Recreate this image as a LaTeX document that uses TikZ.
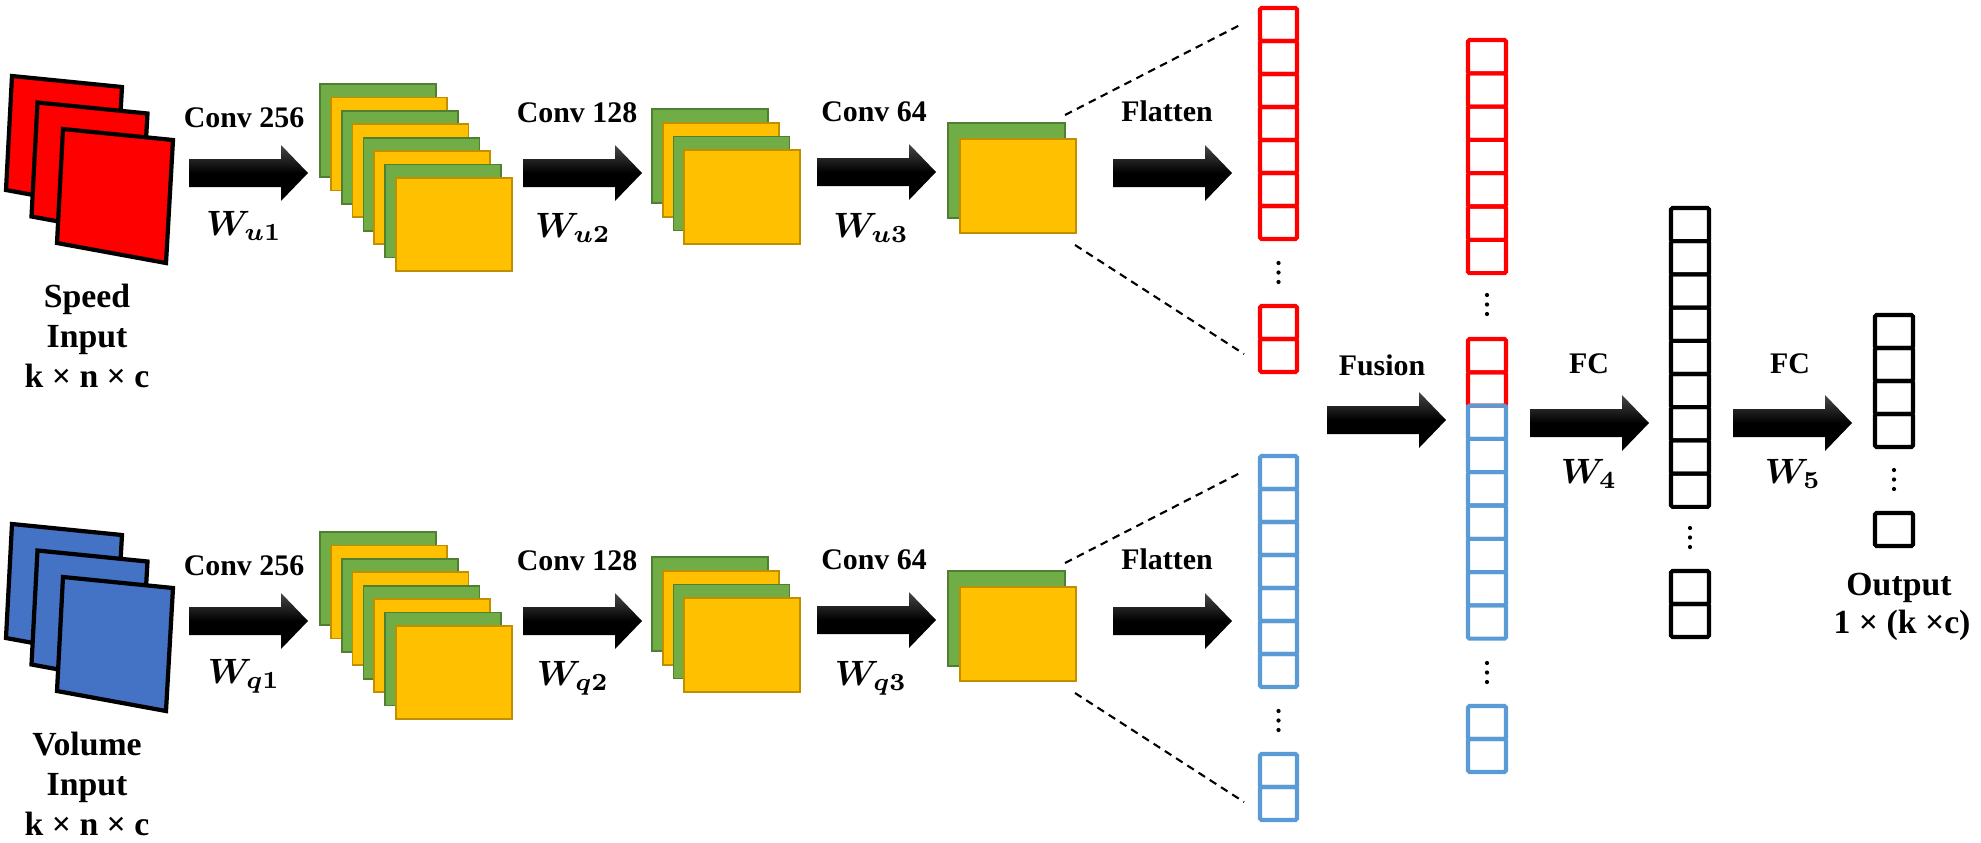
\documentclass[tikz,border=0pt]{standalone}
\usepackage{fontspec}
\setmainfont{Liberation Serif}
\usepackage{bm}
\definecolor{cred}{HTML}{FF0000}
\definecolor{cblue}{HTML}{4472C4}
\definecolor{colblue}{HTML}{5B9BD5}
\definecolor{cgreen}{HTML}{70AD47}
\definecolor{cgreenD}{HTML}{507E32}
\definecolor{cyel}{HTML}{FFC000}
\definecolor{cyelD}{HTML}{BF8F00}
\newcommand\myLabFont{\fontsize{8.5}{10}\selectfont\bfseries}
\newcommand\myWFont{\fontsize{9.6}{11}\selectfont\bfseries}
\newcommand\myIOFont{\fontsize{9.6}{11}\selectfont\bfseries}
\tikzset{
  barrow/.pic={\shade[top color=black!72, bottom color=black, middle color=black]
    (0,-14) -- (92,-14) -- (92,-28) -- (119,0) -- (92,28) -- (92,14) -- (0,14) -- cycle;},
  insq/.style={draw=black, line width=1.2pt, line join=miter},
  grn/.style={draw=cgreenD, fill=cgreen, line width=0.5pt},
  ylw/.style={draw=cyelD, fill=cyel, line width=0.5pt},
  cell/.style={line width=1.15pt, rounded corners=0.4pt},
  alab/.style={font=\myLabFont, inner sep=0pt, anchor=base},
  wlab/.style={font=\myWFont, inner sep=0pt, anchor=base},
  iolab/.style={font=\myIOFont, inner sep=0pt, anchor=base},
  dashline/.style={draw=black, line width=0.6pt, dash pattern=on 2.2pt off 1.6pt},
}
\newcommand\cellcol[6]{% x, y, n, h, color, w
  \foreach \k in {1,...,#3}{\draw[cell,draw=#5] (#1,{#2+(\k-1)*#4}) rectangle ++(#6,#4);}}
\newcommand\mydots[2]{% x, y of first dot
  \foreach \k in {0,1,2}{\fill (#1,{#2+\k*9.5}) circle[radius=0.6pt];}}
\newcommand\branch[4]{% input fill, subscript letter, column colour, input word
  \foreach \j in {0,1,2}{
    \draw[insq, fill=#1] ({12+\j*25.5},{76+\j*26.5}) -- ++(110,11) -- ++(-7,123) -- ++(-109,-20) -- cycle;}
  \node[iolab] (lab1) at (87,307) {#4};
  \node[iolab] (lab2) at (87,347) {Input};
  \node[iolab] (lab3) at (87,387) {k × n × c};
  \pic (a1) at (189,173) {barrow};
  \node[alab] (t1) at (244,127) {Conv 256};
  \node[wlab] (w1) at (244,235) {$\bm{W_{#2 1}}$};
  \foreach \i in {0,...,7}{\ifodd\i\def\sty{ylw}\else\def\sty{grn}\fi
    \draw[\sty] ({320+\i*10.86},{84+\i*13.43}) rectangle ++(116,93);}
  \pic (a2) at (523,173) {barrow};
  \node[alab] (t2) at (577,122) {Conv 128};
  \node[wlab] (w2) at (573,237) {$\bm{W_{#2 2}}$};
  \foreach \i in {0,...,3}{\ifodd\i\def\sty{ylw}\else\def\sty{grn}\fi
    \draw[\sty] ({652+\i*10.7},{109+\i*13.7}) rectangle ++(116,94);}
  \pic (a3) at (817,172) {barrow};
  \node[alab] (t3) at (874,121) {Conv 64};
  \node[wlab] (w3) at (871,237) {$\bm{W_{#2 3}}$};
  \draw[grn] (948,123) rectangle ++(117,95);
  \draw[ylw] (960,139) rectangle ++(116,94);
  \pic (a4) at (1113,173) {barrow};
  \node[alab] (t4) at (1167,121) {Flatten};
  \cellcol{1260}{8}{7}{33}{#3}{37}
  \mydots{1278.5}{263}
  \cellcol{1260}{306}{2}{33}{#3}{37}
  \coordinate (d1) at (1065,115);
  \coordinate (d2) at (1240,25);
  \coordinate (d3) at (1075,245);
  \coordinate (d4) at (1244,354);
  \draw[dashline] (d1) -- (d2);
  \draw[dashline] (d3) -- (d4);
}
\begin{document}
\begin{tikzpicture}[x=0.01cm,y=-0.01cm]
\fill[white] (0,0) rectangle (1981,842);
\useasboundingbox (0,0) rectangle (1981,842);
\begin{scope}[name prefix=top-]
  \branch{cred}{u}{cred}{Speed}
\end{scope}
\begin{scope}[shift={(0,448)}, name prefix=bot-]
  \branch{cblue}{q}{colblue}{Volume}
\end{scope}
% fusion
\pic (fa) at (1327,420) {barrow};
\node[alab] (fus) at (1382,375) {Fusion};
\cellcol{1468}{40}{7}{33.3}{cred}{38}
\mydots{1487}{295}
\cellcol{1468}{339}{2}{33.3}{cred}{38}
\cellcol{1468}{405.6}{7}{33.3}{colblue}{38}
\mydots{1487}{663}
\cellcol{1468}{706}{2}{33}{colblue}{38}
% FC 1
\pic (fc1) at (1530,423) {barrow};
\node[alab] (fct1) at (1589,373) {FC};
\node[wlab] (w4) at (1589,483) {$\bm{W_4}$};
\cellcol{1671}{208}{9}{33.2}{black}{38}
\mydots{1690}{528}
\cellcol{1671}{571}{2}{33}{black}{38}
% FC 2
\pic (fc2) at (1733,423) {barrow};
\node[alab] (fct2) at (1790,373) {FC};
\node[wlab] (w5) at (1793,483) {$\bm{W_5}$};
\cellcol{1875}{315}{4}{33}{black}{38}
\mydots{1894}{470}
\cellcol{1875}{513}{1}{33}{black}{38}
\node[iolab] (out1) at (1899,595) {Output};
\node[iolab] (out2) at (1902,633) {1 × (k ×c)};
\end{tikzpicture}
\end{document}
